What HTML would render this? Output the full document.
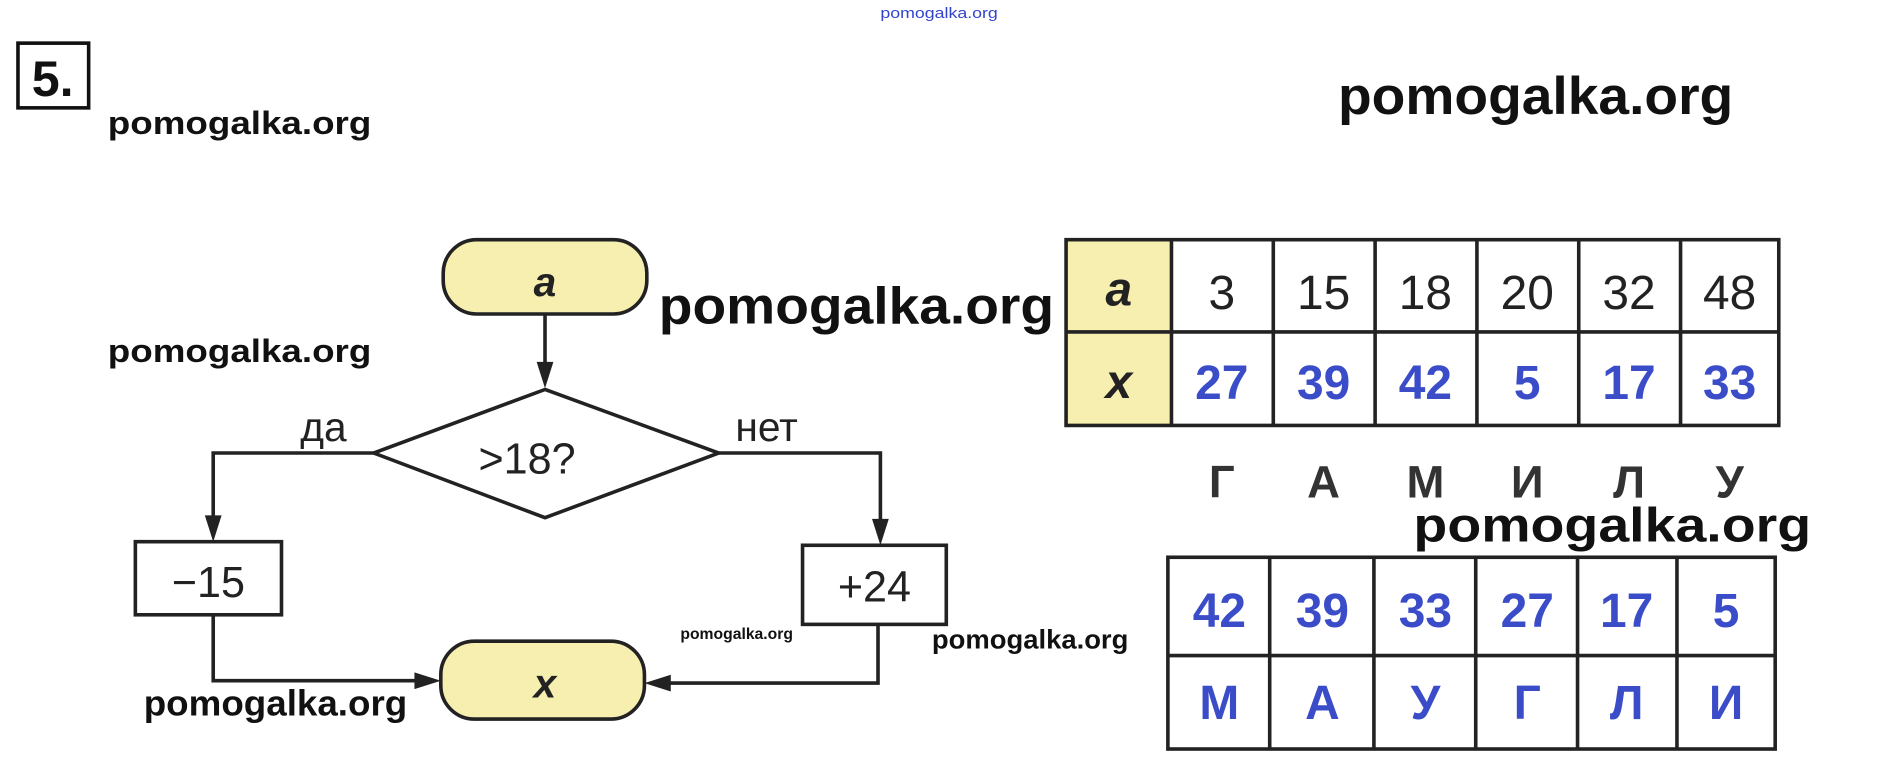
<!DOCTYPE html>
<html><head><meta charset="utf-8"><style>
html,body{margin:0;padding:0;background:#fff;}
svg{display:block;}
text{font-family:"Liberation Sans",sans-serif;}
</style></head><body>
<svg width="1877" height="761" viewBox="0 0 1567 635" preserveAspectRatio="none" xmlns="http://www.w3.org/2000/svg">
<rect width="1567" height="635" fill="#fff"/>
<!-- header -->
<text x="735" y="15" font-size="12" fill="#3344cc" textLength="98" lengthAdjust="spacingAndGlyphs">pomogalka.org</text>
<rect x="15" y="36" width="59" height="54" fill="none" stroke="#111" stroke-width="3"/>
<text x="44" y="80" font-size="42" font-family="Liberation Serif" font-weight="bold" text-anchor="middle" fill="#111">5.</text>
<text x="90" y="112" font-size="27" font-weight="bold" fill="#111" textLength="220" lengthAdjust="spacingAndGlyphs">pomogalka.org</text>
<text x="1117" y="95" font-size="44" font-weight="bold" fill="#111" textLength="330" lengthAdjust="spacingAndGlyphs">pomogalka.org</text>

<!-- flowchart -->
<g stroke="#222" stroke-width="3" fill="none">
<rect x="370" y="200" width="170" height="62" rx="28" fill="#f7efb0"/>
<line x1="455" y1="262" x2="455" y2="318"/>
<polygon points="455,325 600,378 455,432 312,378" fill="#fff"/>
<polyline points="312,378 178,378 178,440"/>
<polyline points="600,378 735,378 735,446"/>
<rect x="113" y="452" width="122" height="61" fill="#fff"/>
<rect x="670" y="455" width="120" height="66" fill="#fff"/>
<polyline points="178,513 178,568 358,568"/>
<polyline points="733,521 733,570 548,570"/>
<rect x="368" y="535" width="170" height="65" rx="28" fill="#f7efb0"/>
</g>
<g fill="#222">
<polygon points="448,302 462,302 455,324"/>
<polygon points="171,430 185,430 178,452"/>
<polygon points="728,433 742,433 735,455"/>
<polygon points="346,561 346,575 368,568"/>
<polygon points="560,563 560,577 538,570"/>
</g>
<text x="455" y="247" font-size="34" font-weight="bold" font-style="italic" text-anchor="middle" fill="#222">a</text>
<text x="455" y="582" font-size="34" font-weight="bold" font-style="italic" text-anchor="middle" fill="#222">x</text>
<text x="440" y="395" font-size="36" text-anchor="middle" fill="#222">&gt;18?</text>
<text x="270" y="368" font-size="34" text-anchor="middle" fill="#222">да</text>
<text x="640" y="368" font-size="34" text-anchor="middle" fill="#222">нет</text>
<text x="174" y="498" font-size="36" text-anchor="middle" fill="#222">−15</text>
<text x="730" y="502" font-size="36" text-anchor="middle" fill="#222">+24</text>

<text x="550" y="270" font-size="43" font-weight="bold" fill="#111" textLength="330" lengthAdjust="spacingAndGlyphs">pomogalka.org</text>
<text x="90" y="302" font-size="27" font-weight="bold" fill="#111" textLength="220" lengthAdjust="spacingAndGlyphs">pomogalka.org</text>
<text x="568" y="533" font-size="13" font-weight="bold" fill="#111" textLength="94" lengthAdjust="spacingAndGlyphs">pomogalka.org</text>
<text x="778" y="541" font-size="22" font-weight="bold" fill="#111" textLength="164" lengthAdjust="spacingAndGlyphs">pomogalka.org</text>
<text x="120" y="597" font-size="30" font-weight="bold" fill="#111" textLength="220" lengthAdjust="spacingAndGlyphs">pomogalka.org</text>

<!-- table 1 -->
<rect x="890" y="200" width="88" height="155" fill="#f7efb0"/>
<g stroke="#222" stroke-width="3" fill="none">
<rect x="890" y="200" width="595" height="155"/>
<line x1="890" y1="277" x2="1485" y2="277"/>
<line x1="978" y1="200" x2="978" y2="355"/>
<line x1="1063" y1="200" x2="1063" y2="355"/>
<line x1="1148" y1="200" x2="1148" y2="355"/>
<line x1="1233" y1="200" x2="1233" y2="355"/>
<line x1="1318" y1="200" x2="1318" y2="355"/>
<line x1="1403" y1="200" x2="1403" y2="355"/>
</g>
<g font-size="40" text-anchor="middle" fill="#222">
<text x="934" y="255" font-weight="bold" font-style="italic">a</text>
<text x="934" y="332" font-weight="bold" font-style="italic">x</text>
<text x="1020" y="258">3</text><text x="1105" y="258">15</text><text x="1190" y="258">18</text>
<text x="1275" y="258">20</text><text x="1360" y="258">32</text><text x="1444" y="258">48</text>
</g>
<g font-size="40" font-weight="bold" text-anchor="middle" fill="#3a4cc8">
<text x="1020" y="333">27</text><text x="1105" y="333">39</text><text x="1190" y="333">42</text>
<text x="1275" y="333">5</text><text x="1360" y="333">17</text><text x="1444" y="333">33</text>
</g>
<g font-size="38" font-weight="bold" text-anchor="middle" fill="#333">
<text x="1020" y="415">Г</text><text x="1105" y="415">А</text><text x="1190" y="415">М</text>
<text x="1275" y="415">И</text><text x="1360" y="415">Л</text><text x="1444" y="415">У</text>
</g>
<text x="1180" y="452" font-size="40" font-weight="bold" fill="#111" textLength="332" lengthAdjust="spacingAndGlyphs">pomogalka.org</text>

<!-- table 2 -->
<g stroke="#222" stroke-width="3" fill="none">
<rect x="975" y="465" width="507" height="160"/>
<line x1="975" y1="547" x2="1482" y2="547"/>
<line x1="1060" y1="465" x2="1060" y2="625"/>
<line x1="1147" y1="465" x2="1147" y2="625"/>
<line x1="1232" y1="465" x2="1232" y2="625"/>
<line x1="1317" y1="465" x2="1317" y2="625"/>
<line x1="1400" y1="465" x2="1400" y2="625"/>
</g>
<g font-size="40" font-weight="bold" text-anchor="middle" fill="#3a4cc8">
<text x="1018" y="523">42</text><text x="1104" y="523">39</text><text x="1190" y="523">33</text>
<text x="1275" y="523">27</text><text x="1358" y="523">17</text><text x="1441" y="523">5</text>
<text x="1018" y="600">М</text><text x="1104" y="600">А</text><text x="1190" y="600">У</text>
<text x="1275" y="600">Г</text><text x="1358" y="600">Л</text><text x="1441" y="600">И</text>
</g>
</svg>
</body></html>
